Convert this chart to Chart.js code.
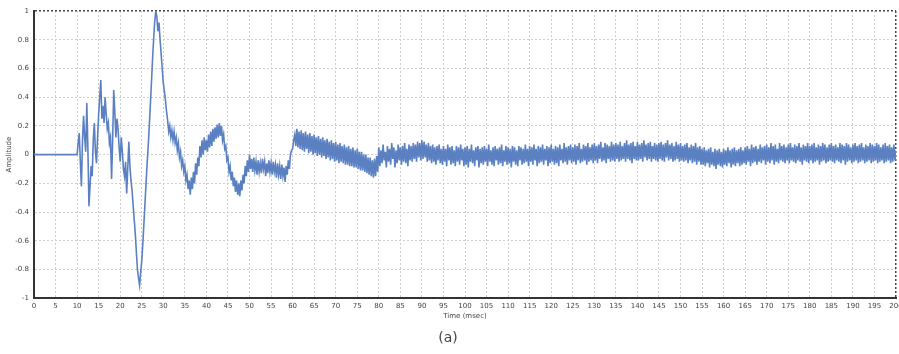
<!DOCTYPE html>
<html>
<head>
<meta charset="utf-8">
<script src="https://cdn.jsdelivr.net/npm/chart.js@4.4.1/dist/chart.umd.min.js"></script>
<style>
    html, body { margin: 0; padding: 0; background: #fff; }
    #wrap { width: 899px; height: 354px; position: relative; }
</style>
</head>
<body>
<div id="wrap"><canvas id="chart-signal"></canvas></div>
<script>
// sample interval of the recording, msec
const sampleStep = 0.25;

// amplitude samples from t = 0, one row = 5 msec
const amplitude = [
    0, 0, 0, 0, 0, 0, 0, 0, 0, 0, 0, 0, 0, 0, 0, 0, 0, 0, 0, 0,
    0, 0, 0, 0, 0, 0, 0, 0, 0, 0, 0, 0, 0, 0, 0, 0, 0, 0, 0, 0,
    0.00, 0.08, 0.15, -0.05, -0.22, 0.10, 0.27, 0.12, 0.02, 0.36, 0.05, -0.36, -0.22, -0.08, -0.15, 0.10, 0.22, 0.02, -0.06, 0.12,
    0.28, 0.40, 0.52, 0.25, 0.34, 0.22, 0.40, 0.28, 0.18, 0.22, 0.08, 0.12, -0.17, 0.10, 0.45, 0.30, 0.12, 0.25, 0.18, 0.05,
    -0.05, 0.12, 0.02, -0.10, -0.15, -0.05, -0.27, -0.10, 0.09, -0.08, -0.18, -0.25, -0.35, -0.45, -0.55, -0.68, -0.80, -0.86, -0.91, -0.82,
    -0.74, -0.62, -0.48, -0.34, -0.20, -0.06, 0.06, 0.20, 0.35, 0.50, 0.66, 0.80, 0.92, 1.00, 0.96, 0.86, 0.92, 0.80, 0.70, 0.60,
    0.50, 0.44, 0.38, 0.30, 0.24, 0.16, 0.20, 0.12, 0.17, 0.10, 0.16, 0.08, 0.12, 0.03, 0.08, -0.02, 0.02, -0.08, -0.04, -0.12,
    -0.08, -0.18, -0.14, -0.24, -0.18, -0.28, -0.16, -0.24, -0.12, -0.20, -0.06, -0.14, -0.02, -0.08, 0.06, -0.02, 0.10, 0.00, 0.12, 0.03,
    0.10, 0.02, 0.14, 0.05, 0.16, 0.06, 0.18, 0.09, 0.19, 0.11, 0.21, 0.12, 0.22, 0.13, 0.20, 0.10, 0.14, 0.04, 0.06, -0.04,
    -0.02, -0.12, -0.08, -0.18, -0.12, -0.22, -0.16, -0.26, -0.18, -0.28, -0.20, -0.29, -0.18, -0.25, -0.14, -0.20, -0.08, -0.15, -0.04, -0.12,
    0.00, -0.10, -0.03, -0.12, -0.02, -0.11, -0.05, -0.14, -0.04, -0.12, -0.06, -0.13, -0.03, -0.10, -0.05, -0.15, -0.06, -0.13, -0.04, -0.12,
    -0.06, -0.14, -0.05, -0.12, -0.07, -0.16, -0.06, -0.14, -0.08, -0.17, -0.07, -0.15, -0.09, -0.19, -0.08, -0.14, -0.04, -0.10, 0.00, 0.03,
    0.04, 0.10, 0.14, 0.06, 0.18, 0.05, 0.16, 0.04, 0.17, 0.03, 0.15, 0.02, 0.16, 0.04, 0.14, 0.01, 0.15, 0.02, 0.13, 0.00,
    0.14, 0.01, 0.12, -0.01, 0.13, 0.00, 0.11, -0.02, 0.12, -0.01, 0.10, -0.03, 0.11, -0.02, 0.09, -0.04, 0.10, -0.03, 0.08, -0.05,
    0.09, -0.04, 0.07, -0.06, 0.08, -0.05, 0.06, -0.06, 0.07, -0.07, 0.05, -0.07, 0.06, -0.08, 0.04, -0.08, 0.05, -0.09, 0.03, -0.09,
    0.04, -0.10, 0.02, -0.11, 0.02, -0.11, 0.00, -0.12, 0.00, -0.13, -0.02, -0.14, -0.02, -0.15, -0.04, -0.16, -0.03, -0.15, -0.01, -0.12,
    0.05, -0.08, 0.03, -0.06, 0.07, -0.04, 0.02, -0.09, 0.06, -0.05, 0.04, -0.07, 0.08, -0.03, 0.05, -0.09, 0.03, -0.06, 0.07, -0.04,
    0.05, -0.07, 0.06, -0.05, 0.08, -0.06, 0.04, -0.08, 0.07, -0.04, 0.06, -0.05, 0.08, -0.03, 0.07, -0.05, 0.09, -0.02, 0.08, -0.04,
    0.10, -0.03, 0.09, -0.02, 0.07, -0.05, 0.08, -0.04, 0.06, -0.06, 0.07, -0.05, 0.05, -0.07, 0.06, -0.04, 0.07, -0.06, 0.04, -0.07,
    0.06, -0.05, 0.04, -0.08, 0.07, -0.04, 0.05, -0.07, 0.06, -0.06, 0.03, -0.08, 0.06, -0.05, 0.05, -0.07, 0.07, -0.04, 0.04, -0.08,
    0.05, -0.07, 0.06, -0.09, 0.04, -0.05, 0.07, -0.06, 0.03, -0.08, 0.05, -0.04, 0.06, -0.09, 0.04, -0.06, 0.05, -0.07, 0.06, -0.05,
    0.04, -0.08, 0.07, -0.05, 0.03, -0.07, 0.05, -0.08, 0.06, -0.04, 0.04, -0.07, 0.05, -0.06, 0.07, -0.08, 0.03, -0.05, 0.06, -0.07,
    0.05, -0.06, 0.04, -0.09, 0.06, -0.05, 0.05, -0.07, 0.03, -0.08, 0.06, -0.04, 0.05, -0.07, 0.04, -0.06, 0.07, -0.05, 0.04, -0.08,
    0.06, -0.05, 0.05, -0.07, 0.07, -0.04, 0.04, -0.08, 0.06, -0.06, 0.05, -0.05, 0.07, -0.07, 0.04, -0.04, 0.06, -0.08, 0.05, -0.06,
    0.07, -0.05, 0.04, -0.07, 0.06, -0.06, 0.05, -0.08, 0.07, -0.04, 0.04, -0.06, 0.08, -0.05, 0.05, -0.07, 0.06, -0.04, 0.07, -0.06,
    0.05, -0.05, 0.07, -0.07, 0.06, -0.04, 0.08, -0.06, 0.04, -0.05, 0.07, -0.04, 0.06, -0.07, 0.08, -0.05, 0.05, -0.04, 0.07, -0.06,
    0.08, -0.04, 0.06, -0.06, 0.07, -0.03, 0.09, -0.05, 0.05, -0.04, 0.08, -0.06, 0.07, -0.03, 0.06, -0.05, 0.09, -0.04, 0.07, -0.05,
    0.08, -0.03, 0.07, -0.05, 0.09, -0.04, 0.06, -0.03, 0.08, -0.05, 0.10, -0.03, 0.07, -0.04, 0.08, -0.06, 0.09, -0.03, 0.06, -0.04,
    0.09, -0.04, 0.07, -0.03, 0.08, -0.05, 0.10, -0.02, 0.07, -0.04, 0.08, -0.03, 0.09, -0.05, 0.06, -0.03, 0.08, -0.04, 0.07, -0.05,
    0.08, -0.03, 0.09, -0.04, 0.07, -0.05, 0.08, -0.02, 0.10, -0.04, 0.07, -0.03, 0.08, -0.05, 0.06, -0.04, 0.09, -0.03, 0.07, -0.05,
    0.08, -0.04, 0.06, -0.05, 0.07, -0.04, 0.08, -0.06, 0.05, -0.04, 0.07, -0.06, 0.06, -0.05, 0.08, -0.07, 0.05, -0.05, 0.06, -0.07,
    0.04, -0.07, 0.05, -0.08, 0.03, -0.06, 0.04, -0.09, 0.05, -0.07, 0.02, -0.08, 0.04, -0.10, 0.03, -0.07, 0.04, -0.08, 0.02, -0.09,
    0.04, -0.07, 0.03, -0.08, 0.05, -0.06, 0.03, -0.09, 0.04, -0.07, 0.05, -0.08, 0.03, -0.06, 0.04, -0.08, 0.05, -0.07, 0.03, -0.06,
    0.05, -0.07, 0.06, -0.05, 0.04, -0.08, 0.07, -0.06, 0.05, -0.05, 0.06, -0.07, 0.04, -0.05, 0.07, -0.06, 0.05, -0.04, 0.06, -0.07,
    0.07, -0.05, 0.05, -0.06, 0.08, -0.04, 0.06, -0.07, 0.07, -0.05, 0.04, -0.06, 0.08, -0.04, 0.06, -0.05, 0.07, -0.06, 0.05, -0.04,
    0.07, -0.06, 0.08, -0.04, 0.05, -0.05, 0.07, -0.06, 0.06, -0.04, 0.08, -0.05, 0.05, -0.07, 0.07, -0.04, 0.06, -0.05, 0.08, -0.06,
    0.06, -0.04, 0.07, -0.06, 0.08, -0.05, 0.05, -0.04, 0.07, -0.07, 0.06, -0.05, 0.08, -0.04, 0.07, -0.06, 0.05, -0.05, 0.07, -0.04,
    0.08, -0.05, 0.06, -0.06, 0.07, -0.04, 0.05, -0.05, 0.08, -0.06, 0.07, -0.04, 0.06, -0.07, 0.08, -0.05, 0.07, -0.04, 0.05, -0.06,
    0.07, -0.05, 0.08, -0.04, 0.06, -0.06, 0.07, -0.05, 0.08, -0.04, 0.05, -0.06, 0.07, -0.05, 0.06, -0.04, 0.08, -0.06, 0.07, -0.05,
    0.06, -0.04, 0.08, -0.06, 0.07, -0.05, 0.05, -0.04, 0.07, -0.06, 0.08, -0.05, 0.06, -0.04, 0.07, -0.06, 0.05, -0.05, 0.07, -0.04,
    0.03
];

// axis range and tick spacing
const timeMin = 0, timeMax = 200, timeTickStep = 5;
const ampMin = -1, ampMax = 1, ampTickStep = 0.2;

window.onload = drawSignal();

function drawSignal() {
    var ctx = document.getElementById("chart-signal").getContext("2d");

    const points = amplitude.map((v, i) => ({ x: i * sampleStep, y: v }));
    const tickFont = { size: 7, family: "DejaVu Sans" };

    new Chart(ctx, {
        type: "line",
        data: {
            datasets: [{
                label: "Amplitude",
                data: points,
                borderColor: "#5b80c2",
                borderWidth: 1.6,
                pointRadius: 0,
                tension: 0,
                fill: false
            }]
        },
        options: {
            responsive: true,
            maintainAspectRatio: false,
            animation: false,
            layout: {
                padding: { top: 11, right: 3, bottom: 3, left: 0 }
            },
            plugins: {
                legend: { display: false },
                tooltip: { enabled: false },
                title: {
                    display: true,
                    text: "(a)",
                    position: "bottom",
                    color: "#444",
                    padding: { top: 10, bottom: 4 },
                    font: { size: 14, family: "DejaVu Sans", weight: "normal" }
                }
            },
            scales: {
                x: {
                    type: "linear",
                    min: timeMin,
                    max: timeMax,
                    afterFit: function (scale) {
                        scale.height = 22;
                        scale.paddingLeft = 0;
                        scale.paddingRight = 0;
                    },
                    border: { display: true, color: "#333", width: 2, dash: [2, 2] },
                    grid: {
                        color: c => c.tick && Math.abs(c.tick.value - timeMax) < 1e-6 ? "#444" : "#cfcfcf",
                        lineWidth: c => c.tick && Math.abs(c.tick.value - timeMax) < 1e-6 ? 1.5 : 1,
                        drawTicks: false
                    },
                    ticks: {
                        stepSize: timeTickStep,
                        autoSkip: false,
                        maxRotation: 0,
                        padding: 4,
                        color: "#444",
                        font: tickFont
                    },
                    title: {
                        display: true,
                        text: "Time (msec)",
                        color: "#444",
                        padding: { top: 1, bottom: 0 },
                        font: tickFont
                    }
                },
                y: {
                    min: ampMin,
                    max: ampMax,
                    afterFit: function (scale) {
                        scale.width = 34;
                    },
                    border: { display: true, color: "#333", width: 2, dash: [2, 2] },
                    grid: {
                        color: c => c.tick && Math.abs(c.tick.value - ampMax) < 1e-6 ? "#444" : "#cfcfcf",
                        lineWidth: c => c.tick && Math.abs(c.tick.value - ampMax) < 1e-6 ? 1.5 : 1,
                        drawTicks: false
                    },
                    ticks: {
                        stepSize: ampTickStep,
                        padding: 5,
                        color: "#444",
                        font: tickFont,
                        callback: v => String(Number(v.toFixed(1)))
                    },
                    title: {
                        display: true,
                        text: "Amplitude",
                        color: "#444",
                        padding: { top: 5, bottom: 1 },
                        font: tickFont
                    }
                }
            }
        }
    });
}
</script>
</body>
</html>
